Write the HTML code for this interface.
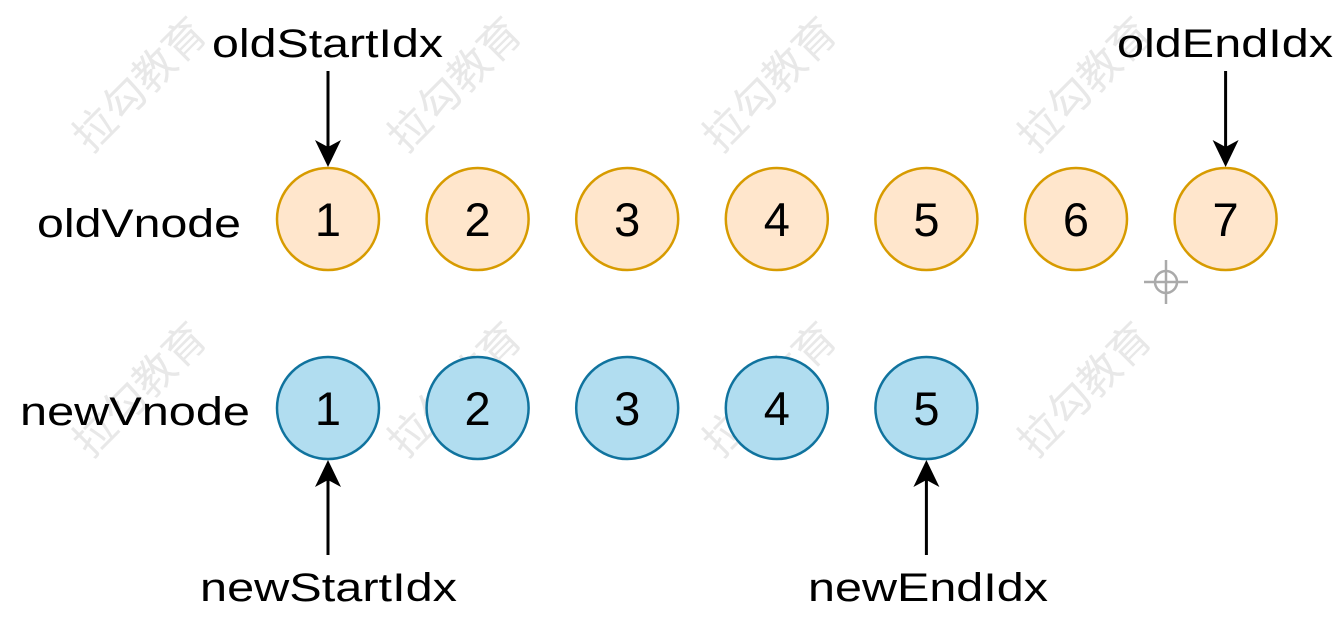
<!DOCTYPE html>
<html><head><meta charset="utf-8"><style>
body{margin:0;background:#fff;}
svg{display:block;font-family:"Liberation Sans","Noto Sans CJK SC",sans-serif;}
</style></head><body>
<svg width="1336" height="628" viewBox="0 0 1336 628">
<g id="wm" fill="#e8e8e8" font-size="42"></g>
<g id="nodes"></g>
<g id="arrows" stroke="#000" stroke-width="3" fill="#000"></g>
<text x="37" y="237" font-size="40" textLength="204" lengthAdjust="spacingAndGlyphs">oldVnode</text>
<text x="20" y="425" font-size="40" textLength="230" lengthAdjust="spacingAndGlyphs">newVnode</text>
<text x="212" y="57" font-size="40" textLength="231" lengthAdjust="spacingAndGlyphs">oldStartIdx</text>
<text x="1117" y="57" font-size="40" textLength="216" lengthAdjust="spacingAndGlyphs">oldEndIdx</text>
<text x="200" y="601" font-size="40" textLength="257" lengthAdjust="spacingAndGlyphs">newStartIdx</text>
<text x="808" y="601" font-size="40" textLength="240" lengthAdjust="spacingAndGlyphs">newEndIdx</text>
<g transform="translate(1166,282)" stroke="#aaa" fill="none" stroke-width="2.5">
<circle r="11"/><line x1="-22" y1="0" x2="22" y2="0"/><line x1="0" y1="-22" x2="0" y2="22"/>
</g>
</svg>
<script>
const oldValues=[1,2,3,4,5,6,7];
const newValues=[1,2,3,4,5];
const x0=328, step=149.6, r=51, oldY=219, newY=408;
const ns="http://www.w3.org/2000/svg";
const xs=i=>x0+i*step;
const wm=document.getElementById('wm');
[[150,95],[465,95],[780,95],[1095,95],[150,400],[465,400],[780,400],[1095,400]].forEach(p=>{
 const t=document.createElementNS(ns,'text');
 
 
 t.setAttribute('transform',`translate(${p[0]},${p[1]}) rotate(-45)`);
 t.setAttribute('text-anchor','middle');t.textContent='拉勾教育';wm.appendChild(t);
});
const g=document.getElementById('nodes');
function node(v,i,y,fill,stroke,name){
 const c=document.createElementNS(ns,'circle');
 
 
 c.setAttribute('cx',xs(i));c.setAttribute('cy',y);c.setAttribute('r',r);
 c.setAttribute('fill',fill);c.setAttribute('stroke',stroke);c.setAttribute('stroke-width',2.5);g.appendChild(c);
 const t=document.createElementNS(ns,'text');
 
 
 t.setAttribute('x',xs(i));t.setAttribute('y',y+17);t.setAttribute('text-anchor','middle');t.setAttribute('font-size','47');
 t.textContent=v;g.appendChild(t);
}
oldValues.forEach((v,i)=>node(v,i,oldY,'#ffe6cc','#d79b00','old-node'));
newValues.forEach((v,i)=>node(v,i,newY,'#b1ddf0','#10739e','new-node'));
const a=document.getElementById('arrows');
function arrow(i,y1,y2,name){
 const x=xs(i),dir=y2>y1?1:-1;
 const l=document.createElementNS(ns,'line');
 
 
 l.setAttribute('x1',x);l.setAttribute('y1',y1);l.setAttribute('x2',x);l.setAttribute('y2',y2-dir*20);a.appendChild(l);
 const p=document.createElementNS(ns,'polygon');
 
 
 p.setAttribute('stroke','none');
 p.setAttribute('points',`${x},${y2} ${x-13},${y2-dir*27} ${x},${y2-dir*20} ${x+13},${y2-dir*27}`);a.appendChild(p);
}
arrow(0,71,oldY-r-1,'old-start-arrow');
arrow(oldValues.length-1,71,oldY-r-1,'old-end-arrow');
arrow(0,555,newY+r+1,'new-start-arrow');
arrow(newValues.length-1,555,newY+r+1,'new-end-arrow');
</script>
</body></html>
